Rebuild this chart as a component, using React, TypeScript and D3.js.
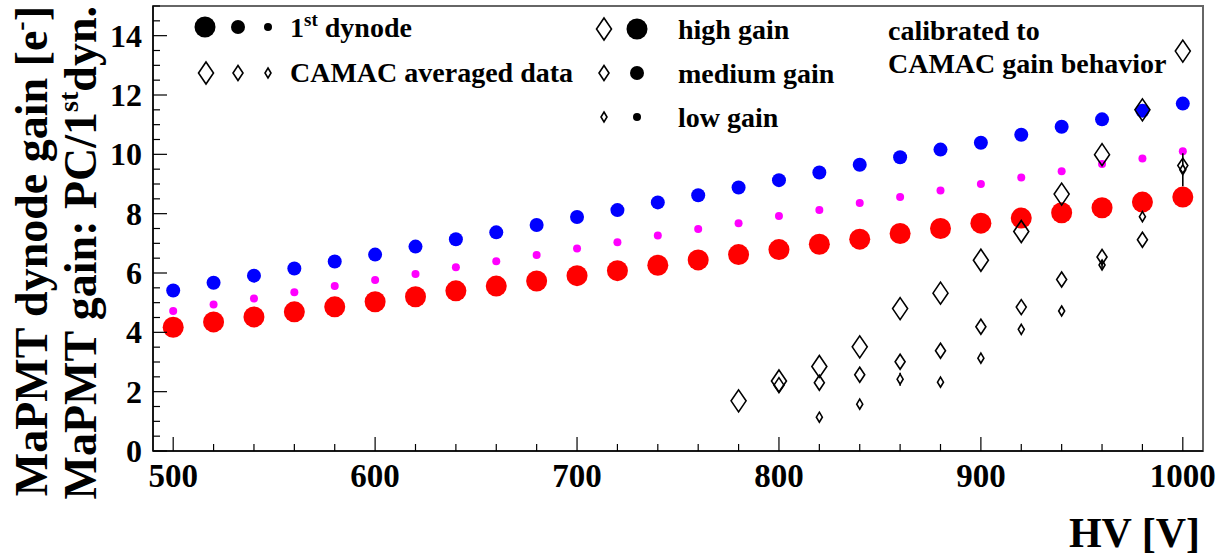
import React from "react";
import * as d3 from "d3";

// High voltage settings of the 1st dynode scan [V]
const hv = [500, 520, 540, 560, 580, 600, 620, 640, 660, 680, 700, 720, 740, 760, 780, 800, 820, 840, 860, 880, 900, 920, 940, 960, 980, 1000];

// 1st dynode gain, calibrated to CAMAC gain behavior
const dynodeHigh = [4.17, 4.35, 4.52, 4.69, 4.86, 5.03, 5.2, 5.4, 5.56, 5.73, 5.91, 6.08, 6.26, 6.44, 6.62, 6.79, 6.97, 7.14, 7.33, 7.5, 7.68, 7.85, 8.03, 8.2, 8.39, 8.56];
const dynodeMedium = [5.41, 5.67, 5.91, 6.15, 6.39, 6.62, 6.89, 7.14, 7.37, 7.62, 7.89, 8.12, 8.38, 8.62, 8.88, 9.13, 9.39, 9.65, 9.9, 10.16, 10.39, 10.66, 10.93, 11.18, 11.47, 11.71];
const dynodeLow = [4.72, 4.94, 5.14, 5.35, 5.56, 5.76, 5.97, 6.19, 6.4, 6.61, 6.83, 7.04, 7.26, 7.48, 7.68, 7.92, 8.12, 8.36, 8.56, 8.78, 9.0, 9.22, 9.43, 9.67, 9.86, 10.1];

// CAMAC averaged data (PC / 1st dynode)
const camacHighHV = [780, 800, 820, 840, 860, 880, 900, 920, 940, 960, 980, 1000];
const camacHigh = [1.69, 2.36, 2.85, 3.51, 4.8, 5.32, 6.43, 7.4, 8.66, 9.99, 11.5, 13.48];
const camacMediumHV = [800, 820, 840, 860, 880, 900, 920, 940, 960, 980, 1000];
const camacMedium = [2.22, 2.3, 2.57, 3.01, 3.38, 4.19, 4.85, 5.78, 6.54, 7.12, 9.62];
const camacLowHV = [820, 840, 860, 880, 900, 920, 940, 960, 980, 1000];
const camacLow = [1.14, 1.58, 2.42, 2.32, 3.13, 4.1, 4.72, 6.27, 7.9, 9.48];
const camacLowErr = [0, 0, 0.22, 0, 0, 0, 0, 0.12, 0.17, 0.56];

const xTicks = [500, 600, 700, 800, 900, 1000];
const yTicks = [0, 2, 4, 6, 8, 10, 12, 14];

const gainLegend = ["high gain", "medium gain", "low gain"];

const W = 1232;
const H = 555;
const frame = { left: 153, right: 1203, top: 6, bottom: 451 };

const x = d3.scaleLinear().domain([490, 1010]).range([frame.left, frame.right]);
const y = d3.scaleLinear().domain([0, 15]).range([frame.bottom, frame.top]);

const xMinor = d3.range(500, 1001, 20);
const yMinor = d3.range(0, 15.01, 0.5);

const circleR = [10.5, 7, 4];
const diamondSize = [
  { hw: 7.5, hh: 11 },
  { hw: 5, hh: 7.5 },
  { hw: 3, hh: 5 },
];

const font = "'Liberation Serif', 'Times New Roman', 'DejaVu Serif', serif";

function diamond(cx: number, cy: number, hw: number, hh: number) {
  return `M${cx},${cy - hh}L${cx + hw},${cy}L${cx},${cy + hh}L${cx - hw},${cy}Z`;
}

function Diamond({ cx, cy, s }: { cx: number; cy: number; s: number }) {
  const d = diamondSize[s];
  return <path d={diamond(cx, cy, d.hw, d.hh)} fill="none" stroke="#000" strokeWidth={1.6} />;
}

export default function App() {
  const dynodeSets = [
    { values: dynodeHigh, color: "#ff0000", r: circleR[0] },
    { values: dynodeMedium, color: "#0000ff", r: circleR[1] },
    { values: dynodeLow, color: "#ff00ff", r: circleR[2] },
  ];
  const camacSets = [
    { hvs: camacHighHV, values: camacHigh, s: 0 },
    { hvs: camacMediumHV, values: camacMedium, s: 1 },
    { hvs: camacLowHV, values: camacLow, s: 2, err: camacLowErr },
  ];

  return (
    <svg
      width={W}
      height={H}
      viewBox={`0 0 ${W} ${H}`}
      style={{ position: "absolute", left: 0, top: 0, background: "#fff" }}
      fontFamily={font}
      fontWeight="bold"
    >
      <rect x={0} y={0} width={W} height={H} fill="#fff" />

      {/* frame */}
      <rect
        x={frame.left}
        y={frame.top}
        width={frame.right - frame.left}
        height={frame.bottom - frame.top}
        fill="none"
        stroke="#666"
        strokeWidth={2}
      />

      {/* 1st dynode points */}
      {dynodeSets.map((set, i) => (
        <g key={"dyn" + i}>
          {set.values.map((v, j) => (
            <circle key={j} cx={x(hv[j])} cy={y(v)} r={set.r} fill={set.color} />
          ))}
        </g>
      ))}

      {/* CAMAC averaged data */}
      {camacSets.map((set, i) => (
        <g key={"camac" + i}>
          {set.values.map((v, j) => {
            const cx = x(set.hvs[j]);
            const cy = y(v);
            const e = set.err ? set.err[j] : 0;
            const hh = diamondSize[set.s].hh;
            return (
              <g key={j}>
                {e > 0 && y(v - e) - cy > hh && (
                  <>
                    <line x1={cx} x2={cx} y1={y(v + e)} y2={cy - hh} stroke="#000" strokeWidth={1.6} />
                    <line x1={cx} x2={cx} y1={cy + hh} y2={y(v - e)} stroke="#000" strokeWidth={1.6} />
                  </>
                )}
                {e > 0 && y(v - e) - cy <= hh && (
                  <line x1={cx} x2={cx} y1={y(v + e)} y2={y(v - e)} stroke="#000" strokeWidth={1.6} />
                )}
                <Diamond cx={cx} cy={cy} s={set.s} />
              </g>
            );
          })}
        </g>
      ))}

      {/* axes */}
      <line x1={frame.left} x2={frame.right} y1={frame.bottom} y2={frame.bottom} stroke="#000" strokeWidth={1.5} />
      <line x1={frame.left} x2={frame.left} y1={frame.top} y2={frame.bottom} stroke="#000" strokeWidth={1.5} />
      {xMinor.map((t) => {
        const major = xTicks.includes(t);
        return (
          <line key={"xt" + t} x1={x(t)} x2={x(t)} y1={frame.bottom} y2={frame.bottom - (major ? 14 : 7)} stroke="#000" strokeWidth={1.2} />
        );
      })}
      {yMinor.map((t) => {
        const major = Math.abs(t - Math.round(t / 2) * 2) < 1e-6;
        return (
          <line key={"yt" + t} x1={frame.left} x2={frame.left + (major ? 14 : 7)} y1={y(t)} y2={y(t)} stroke="#000" strokeWidth={1.2} />
        );
      })}
      {xTicks.map((t) => (
        <text key={"xl" + t} x={x(t)} y={487} fontSize={33} textAnchor="middle" fill="#000">
          {t}
        </text>
      ))}
      {yTicks.map((t) => (
        <text key={"yl" + t} x={142} y={y(t) + 11} fontSize={32} textAnchor="end" fill="#000">
          {t}
        </text>
      ))}

      {/* axis titles */}
      <text x={1200} y={547} fontSize={42} textAnchor="end" fill="#000">
        HV [V]
      </text>
      <text transform="translate(47,6) rotate(-90)" fontSize={46} textAnchor="end" fill="#000">
        MaPMT dynode gain [e
        <tspan fontSize={28} dy={-18}>-</tspan>
        <tspan dy={18}>]</tspan>
      </text>
      <text transform="translate(96,6) rotate(-90)" fontSize={46} textAnchor="end" fill="#000">
        MaPMT gain: PC/1
        <tspan fontSize={28} dy={-18}>st</tspan>
        <tspan dy={18}>dyn.</tspan>
      </text>

      {/* legend: marker sizes */}
      {circleR.map((r, i) => (
        <circle key={"lc" + i} cx={[205, 238, 268][i]} cy={27} r={r} fill="#000" />
      ))}
      <text x={290} y={37} fontSize={28} fill="#000">
        1<tspan fontSize={19} dy={-11}>st</tspan>
        <tspan dy={11}> dynode</tspan>
      </text>
      {diamondSize.map((_, i) => (
        <Diamond key={"ld" + i} cx={[206, 238, 268][i]} cy={73} s={i} />
      ))}
      <text x={290} y={82} fontSize={28} fill="#000">
        CAMAC averaged data
      </text>

      {/* legend: gain settings */}
      {gainLegend.map((label, i) => (
        <g key={"gl" + i}>
          <Diamond cx={604} cy={29 + i * 44} s={i} />
          <circle cx={637} cy={29 + i * 44} r={circleR[i]} fill="#000" />
          <text x={678} y={39 + i * 44} fontSize={28} fill="#000">
            {label}
          </text>
        </g>
      ))}

      <text x={888} y={40} fontSize={28} fill="#000">
        calibrated to
      </text>
      <text x={888} y={73} fontSize={28} fill="#000">
        CAMAC gain behavior
      </text>
    </svg>
  );
}
